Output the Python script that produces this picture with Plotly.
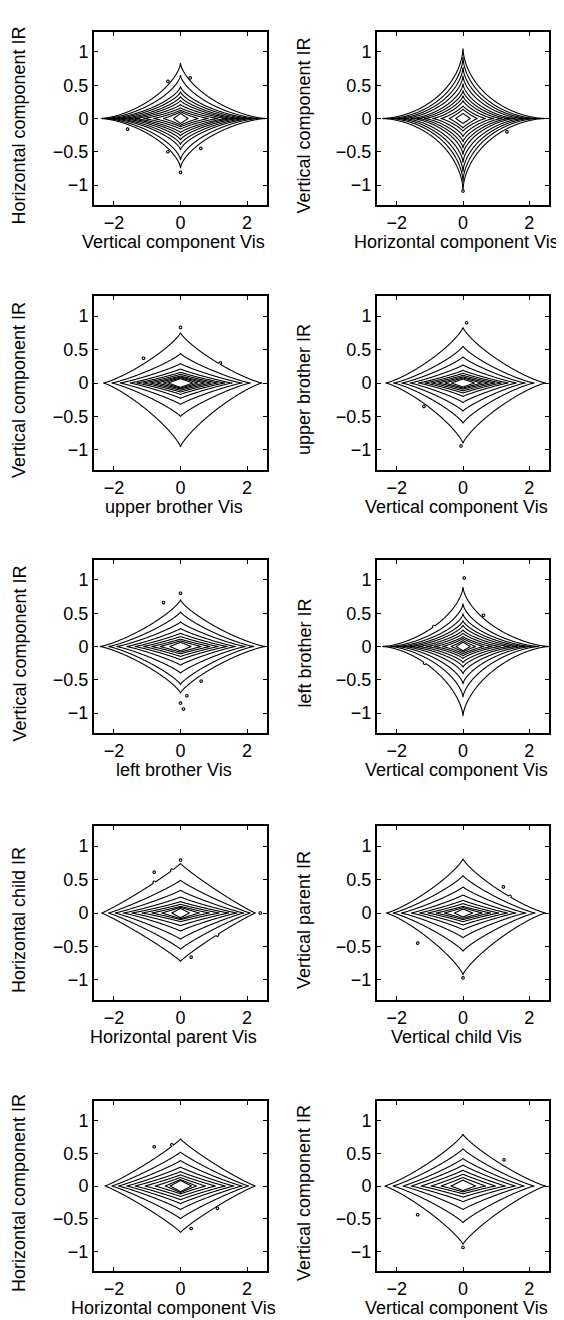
import numpy as np
import plotly.graph_objects as go

FONT = "Liberation Sans, Arial, Helvetica, sans-serif"

X_TICKS = [-2, 0, 2]
Y_TICKS = [-1, -0.5, 0, 0.5, 1]

X_LABELS = ["Vertical component Vis", "Horizontal component Vis",
            "upper brother Vis", "Vertical component Vis",
            "left brother Vis", "Vertical component Vis",
            "Horizontal parent Vis", "Vertical child Vis",
            "Horizontal component Vis", "Vertical component Vis"]
Y_LABELS = ["Horizontal component IR", "Vertical component IR",
            "Vertical component IR", "upper brother IR",
            "Vertical component IR", "left brother IR",
            "Horizontal child IR", "Vertical parent IR",
            "Horizontal component IR", "Vertical component IR"]

# Contour extents (outermost -> innermost level)
# XNEG / XPOS: where each contour crosses the negative / positive x axis
# YPOS / YNEG: where each contour crosses the positive / negative y axis
# SHAPE: how concave (star-like, <1) or diamond-like (=1) each contour is
P1_XNEG = [2.35, 2.27, 2.12, 1.97, 1.77, 1.57, 1.37, 1.11, 0.81, 0.51, 0.21]
P1_XPOS = [2.55, 2.35, 2.18, 2.00, 1.80, 1.60, 1.40, 1.13, 0.83, 0.53, 0.23]
P1_YPOS = [0.83, 0.65, 0.48, 0.40, 0.33, 0.27, 0.21, 0.16, 0.125, 0.10, 0.075]
P1_YNEG = [0.74, 0.62, 0.47, 0.39, 0.32, 0.26, 0.21, 0.16, 0.125, 0.10, 0.075]
P1_SHAPE = [0.68, 0.68, 0.70, 0.72, 0.74, 0.77, 0.80, 0.84, 0.88, 0.93, 1.0]
P1_ISL_X = [-0.38, 0.29, -1.59, -0.38, 0.61, 0.0]
P1_ISL_Y = [0.56, 0.61, -0.16, -0.50, -0.45, -0.81]

P2_XNEG = [2.42, 2.23, 2.03, 1.83, 1.58, 1.38, 1.17, 0.92, 0.67, 0.42, 0.22]
P2_XPOS = [2.47, 2.25, 2.05, 1.85, 1.60, 1.40, 1.18, 0.93, 0.68, 0.43, 0.22]
P2_YPOS = [1.05, 0.92, 0.77, 0.64, 0.52, 0.42, 0.34, 0.27, 0.19, 0.14, 0.075]
P2_YNEG = [1.07, 0.95, 0.80, 0.66, 0.54, 0.44, 0.35, 0.27, 0.19, 0.14, 0.075]
P2_SHAPE = [0.60, 0.60, 0.62, 0.64, 0.66, 0.69, 0.72, 0.76, 0.82, 0.90, 1.0]
P2_ISL_X = [-0.49, -0.96, -0.46, 0.99, 1.33, 0.0]
P2_ISL_Y = [0.34, 0.19, -0.45, -0.19, -0.20, -1.09]

P3_XNEG = [2.32, 2.07, 1.82, 1.52, 1.32, 1.11, 0.91, 0.71, 0.51, 0.37]
P3_XPOS = [2.45, 2.10, 1.85, 1.55, 1.33, 1.12, 0.92, 0.72, 0.52, 0.37]
P3_YPOS = [0.75, 0.44, 0.29, 0.21, 0.16, 0.13, 0.105, 0.09, 0.078, 0.065]
P3_YNEG = [0.95, 0.50, 0.32, 0.23, 0.17, 0.135, 0.11, 0.09, 0.078, 0.065]
P3_SHAPE = [0.82, 0.85, 0.88, 0.90, 0.92, 0.94, 0.96, 0.98, 1.0, 1.0]
P3_ISL_X = [0.0, -1.11, 1.20]
P3_ISL_Y = [0.83, 0.37, 0.30]

P4_XNEG = [2.34, 2.10, 1.85, 1.60, 1.35, 1.15, 0.95, 0.75, 0.55, 0.35]
P4_XPOS = [2.50, 2.15, 1.88, 1.62, 1.37, 1.16, 0.96, 0.76, 0.56, 0.35]
P4_YPOS = [0.83, 0.55, 0.39, 0.27, 0.19, 0.145, 0.115, 0.092, 0.075, 0.06]
P4_YNEG = [0.90, 0.60, 0.42, 0.29, 0.20, 0.15, 0.118, 0.092, 0.075, 0.06]
P4_SHAPE = [0.80, 0.82, 0.85, 0.88, 0.90, 0.93, 0.95, 0.97, 1.0, 1.0]
P4_ISL_X = [0.11, -1.18, -0.86, 1.00, -0.06]
P4_ISL_Y = [0.90, -0.35, -0.39, 0.30, -0.94]

P5_XNEG = [2.42, 2.17, 1.92, 1.62, 1.37, 1.11, 0.86, 0.61, 0.32]
P5_XPOS = [2.55, 2.20, 1.95, 1.65, 1.40, 1.13, 0.88, 0.62, 0.32]
P5_YPOS = [0.70, 0.52, 0.37, 0.27, 0.20, 0.15, 0.11, 0.085, 0.065]
P5_YNEG = [0.70, 0.57, 0.40, 0.28, 0.20, 0.15, 0.11, 0.085, 0.065]
P5_SHAPE = [0.80, 0.82, 0.85, 0.88, 0.90, 0.93, 0.96, 0.98, 1.0]
P5_ISL_X = [0.0, -0.51, 0.62, 0.0, 0.19, 0.09, -0.51]
P5_ISL_Y = [0.80, 0.66, -0.52, -0.85, -0.74, -0.94, -0.44]

P6_XNEG = [2.42, 2.22, 2.02, 1.82, 1.62, 1.37, 1.11, 0.86, 0.61, 0.36, 0.21]
P6_XPOS = [2.60, 2.30, 2.08, 1.88, 1.65, 1.40, 1.13, 0.88, 0.63, 0.38, 0.22]
P6_YPOS = [0.89, 0.64, 0.49, 0.39, 0.32, 0.25, 0.20, 0.15, 0.12, 0.09, 0.065]
P6_YNEG = [1.04, 0.76, 0.56, 0.41, 0.31, 0.24, 0.18, 0.14, 0.11, 0.085, 0.065]
P6_SHAPE = [0.66, 0.67, 0.69, 0.71, 0.73, 0.76, 0.79, 0.83, 0.88, 0.93, 1.0]
P6_ISL_X = [0.04, 0.62, -0.88, -1.16, 0.44, 0.74]
P6_ISL_Y = [1.03, 0.47, 0.30, -0.25, -0.35, -0.37]

P7_XNEG = [2.37, 2.17, 1.97, 1.72, 1.47, 1.16, 0.86, 0.56, 0.26]
P7_XPOS = [2.25, 2.10, 1.90, 1.70, 1.45, 1.17, 0.87, 0.57, 0.27]
P7_YPOS = [0.74, 0.49, 0.34, 0.24, 0.17, 0.13, 0.10, 0.085, 0.07]
P7_YNEG = [0.72, 0.54, 0.39, 0.27, 0.19, 0.13, 0.10, 0.085, 0.07]
P7_SHAPE = [0.92, 0.90, 0.90, 0.90, 0.92, 0.94, 0.96, 0.98, 1.0]
P7_ISL_X = [0.0, -0.26, -0.79, -0.79, 0.69, 0.32, 2.40, -1.16, 1.11]
P7_ISL_Y = [0.79, 0.64, 0.61, 0.46, 0.45, -0.66, 0.0, -0.23, -0.33]

P8_XNEG = [2.32, 2.12, 1.87, 1.57, 1.32, 1.06, 0.81, 0.56, 0.26]
P8_XPOS = [2.50, 2.18, 1.90, 1.60, 1.35, 1.08, 0.83, 0.58, 0.30]
P8_YPOS = [0.81, 0.56, 0.39, 0.27, 0.19, 0.14, 0.10, 0.08, 0.06]
P8_YNEG = [0.92, 0.57, 0.37, 0.25, 0.18, 0.13, 0.10, 0.08, 0.06]
P8_SHAPE = [0.82, 0.85, 0.87, 0.90, 0.92, 0.94, 0.96, 0.98, 1.0]
P8_ISL_X = [-0.34, 0.72, 1.22, 1.42, -1.37, 0.0, -0.59]
P8_ISL_Y = [0.57, 0.40, 0.39, 0.25, -0.45, -0.97, -0.45]

P9_XNEG = [2.27, 2.07, 1.87, 1.62, 1.37, 1.07, 0.76, 0.46, 0.31]
P9_XPOS = [2.25, 2.05, 1.85, 1.60, 1.35, 1.05, 0.75, 0.48, 0.33]
P9_YPOS = [0.72, 0.52, 0.39, 0.29, 0.22, 0.17, 0.13, 0.10, 0.085]
P9_YNEG = [0.71, 0.50, 0.36, 0.27, 0.21, 0.16, 0.12, 0.10, 0.085]
P9_SHAPE = [0.90, 0.90, 0.90, 0.92, 0.93, 0.95, 0.97, 0.99, 1.0]
P9_ISL_X = [-0.79, -0.26, -0.69, 1.11, -1.14, 1.11, 0.32]
P9_ISL_Y = [0.60, 0.63, 0.32, 0.26, -0.25, -0.34, -0.65]

P10_XNEG = [2.37, 2.12, 1.82, 1.57, 1.27, 0.96, 0.66, 0.36]
P10_XPOS = [2.50, 2.15, 1.85, 1.58, 1.28, 0.98, 0.68, 0.38]
P10_YPOS = [0.79, 0.57, 0.42, 0.32, 0.24, 0.18, 0.13, 0.09]
P10_YNEG = [0.89, 0.56, 0.36, 0.24, 0.17, 0.12, 0.09, 0.07]
P10_SHAPE = [0.85, 0.87, 0.90, 0.92, 0.94, 0.96, 0.98, 1.0]
P10_ISL_X = [-0.34, 0.72, 1.24, -1.37, -0.56, 0.0]
P10_ISL_Y = [0.57, 0.40, 0.40, -0.44, -0.45, -0.94]

PANELS = [
    (P1_XNEG, P1_XPOS, P1_YPOS, P1_YNEG, P1_SHAPE, P1_ISL_X, P1_ISL_Y),
    (P2_XNEG, P2_XPOS, P2_YPOS, P2_YNEG, P2_SHAPE, P2_ISL_X, P2_ISL_Y),
    (P3_XNEG, P3_XPOS, P3_YPOS, P3_YNEG, P3_SHAPE, P3_ISL_X, P3_ISL_Y),
    (P4_XNEG, P4_XPOS, P4_YPOS, P4_YNEG, P4_SHAPE, P4_ISL_X, P4_ISL_Y),
    (P5_XNEG, P5_XPOS, P5_YPOS, P5_YNEG, P5_SHAPE, P5_ISL_X, P5_ISL_Y),
    (P6_XNEG, P6_XPOS, P6_YPOS, P6_YNEG, P6_SHAPE, P6_ISL_X, P6_ISL_Y),
    (P7_XNEG, P7_XPOS, P7_YPOS, P7_YNEG, P7_SHAPE, P7_ISL_X, P7_ISL_Y),
    (P8_XNEG, P8_XPOS, P8_YPOS, P8_YNEG, P8_SHAPE, P8_ISL_X, P8_ISL_Y),
    (P9_XNEG, P9_XPOS, P9_YPOS, P9_YNEG, P9_SHAPE, P9_ISL_X, P9_ISL_Y),
    (P10_XNEG, P10_XPOS, P10_YPOS, P10_YNEG, P10_SHAPE, P10_ISL_X, P10_ISL_Y),
]

# evaluation grid
GX = np.linspace(-2.6, 2.6, 313)
GY = np.linspace(-1.3, 1.3, 391)
XX, YY = np.meshgrid(GX, GY)


def level_field(xneg, xpos, ypos, yneg, shape, isl_x, isl_y):
    """Number of contours enclosing each grid point (sharp step)."""
    z = np.zeros_like(XX)
    ax_ = np.abs(XX)
    ay_ = np.abs(YY)
    for k in range(len(xneg)):
        a = np.where(XX >= 0, xpos[k], xneg[k])
        b = np.where(YY >= 0, ypos[k], yneg[k])
        p = shape[k]
        r = (ax_ / a) ** p + (ay_ / b) ** p
        z += 1.0 / (1.0 + np.minimum(r, 20.0) ** 60)
    isl = np.zeros_like(XX)
    for xi, yi in zip(isl_x, isl_y):
        isl = np.maximum(isl, np.exp(-((XX - xi) ** 2 / (2 * 0.04 ** 2)
                                      + (YY - yi) ** 2 / (2 * 0.02 ** 2))))
    z = np.maximum(z, 0.8 * isl)
    return z.astype(np.float32)


# layout geometry (pixels of a 564 x 1320 page)
W, H = 564, 1320
COL_X = [(86, 259), (369, 541)]
ROW_Y = [(24, 197), (288, 462), (552, 725), (818, 992), (1093, 1263)]
YTITLE_X = [11, 296]

fig = go.Figure()
layout = dict(width=W, height=H, margin=dict(l=0, r=0, t=0, b=0),
              paper_bgcolor="white", plot_bgcolor="white", showlegend=False,
              font=dict(family=FONT, size=17, color="black"))
annotations = []

for i, pdata in enumerate(PANELS):
    n = i + 1
    row, col = divmod(i, 2)
    z = level_field(*pdata)
    K = len(pdata[0])
    fig.add_trace(go.Contour(
        x=GX, y=GY, z=z, xaxis=f"x{n}", yaxis=f"y{n}",
        autocontour=False,
        contours=dict(start=0.5, end=K - 0.5, size=1, coloring="none"),
        line=dict(color="black", width=1.1, smoothing=0.3),
        showscale=False, hoverinfo="skip"))
    x0, x1 = COL_X[col]
    y0, y1 = ROW_Y[row]
    common = dict(ticks="inside", ticklen=4, tickwidth=1, tickcolor="black",
                  showline=True, linecolor="black", linewidth=2,
                  mirror="ticks", showgrid=False, zeroline=False,
                  tickfont=dict(family=FONT, size=18, color="black"))
    layout[f"xaxis{n}"] = dict(
        domain=[x0 / W, x1 / W], range=[-2.6, 2.6], tickvals=X_TICKS,
        anchor=f"y{n}", **common)
    layout[f"yaxis{n}"] = dict(
        domain=[1 - y1 / H, 1 - y0 / H], range=[-1.3, 1.3], tickvals=Y_TICKS,
        anchor=f"x{n}", **common)
    # axis titles
    annotations.append(dict(
        text=X_LABELS[i], xref="paper", yref="paper",
        x=((x0 + x1) / 2 - 7) / W, y=1 - (y1 + 37) / H,
        xanchor="center", yanchor="middle", showarrow=False,
        font=dict(family=FONT, size=18, color="black")))
    annotations.append(dict(
        text=Y_LABELS[i], xref="paper", yref="paper", textangle=-90,
        x=YTITLE_X[col] / W, y=1 - ((y0 + y1) / 2 + 7) / H,
        xanchor="center", yanchor="middle", showarrow=False,
        font=dict(family=FONT, size=18, color="black")))

layout["annotations"] = annotations
fig.update_layout(**layout)
fig.write_html("out.html")
